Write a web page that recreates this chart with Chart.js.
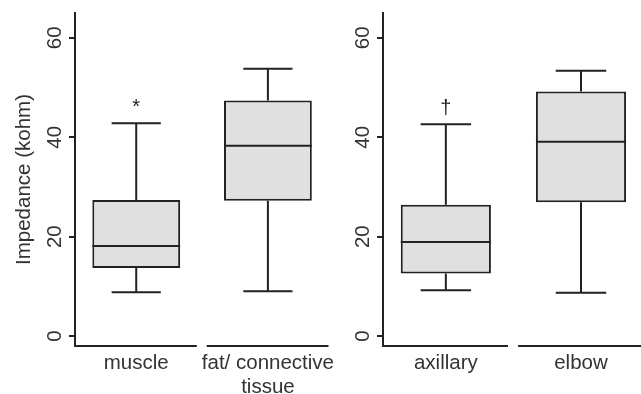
<!DOCTYPE html>
<html>
<head>
<meta charset="utf-8">
<script src="https://cdn.jsdelivr.net/npm/chart.js@4.4.1/dist/chart.umd.min.js"></script>
<style>
  body { margin: 0; background: #fff; }
  #wrap { position: relative; width: 641px; height: 394px; }
  #leftBox { position: absolute; left: 0; top: 0; width: 340px; height: 394px; }
  #rightBox { position: absolute; left: 340px; top: 0; width: 301px; height: 394px; }
</style>
</head>
<body>
<div id="wrap">
  <div id="leftBox"><canvas id="tissueChart"></canvas></div>
  <div id="rightBox"><canvas id="siteChart"></canvas></div>
</div>
<script>
// left panel: tissue type
const tissueLabels = ['muscle', ['fat/ connective', 'tissue']];
const tissueMin = [8.8, 9.0];
const tissueQ1 = [13.7, 27.2];
const tissueMedian = [18.1, 38.3];
const tissueQ3 = [27.4, 47.4];
const tissueMax = [42.8, 53.8];
const tissueMarks = ['*', ''];

// right panel: puncture site
const siteLabels = ['axillary', 'elbow'];
const siteMin = [9.2, 8.7];
const siteQ1 = [12.6, 26.9];
const siteMedian = [18.9, 39.1];
const siteQ3 = [26.4, 49.2];
const siteMax = [42.6, 53.4];
const siteMarks = ['\u2020', ''];

const yTicks = [0, 20, 40, 60];

const FONT = '"Liberation Sans", Arial, sans-serif';
const INK = '#222';
const TXT = '#333';

// whiskers, medians, segmented x axis, rotated y tick labels
const boxPlugin = {
  id: 'boxPlugin',
  afterDatasetsDraw(chart, args, opts) {
    const { ctx, chartArea } = chart;
    const x = chart.scales.x, y = chart.scales.y;
    const bars = chart.getDatasetMeta(0).data;
    ctx.save();
    ctx.strokeStyle = INK;
    ctx.lineWidth = 2;
    bars.forEach((bar, i) => {
      const cx = bar.x;
      const half = bar.width / 2;
      const cap = bar.width * 0.28;
      const pMed = y.getPixelForValue(opts.median[i]);
      const pQ1 = y.getPixelForValue(opts.q1[i]);
      const pQ3 = y.getPixelForValue(opts.q3[i]);
      const pMin = y.getPixelForValue(opts.min[i]);
      const pMax = y.getPixelForValue(opts.max[i]);
      ctx.beginPath();
      ctx.moveTo(cx - half, pMed); ctx.lineTo(cx + half, pMed);
      ctx.moveTo(cx, pQ3); ctx.lineTo(cx, pMax);
      ctx.moveTo(cx - cap, pMax); ctx.lineTo(cx + cap, pMax);
      ctx.moveTo(cx, pQ1); ctx.lineTo(cx, pMin);
      ctx.moveTo(cx - cap, pMin); ctx.lineTo(cx + cap, pMin);
      ctx.stroke();
      if (opts.marks[i]) {
        ctx.fillStyle = INK;
        ctx.font = '20px ' + FONT;
        ctx.textAlign = 'center';
        ctx.textBaseline = 'alphabetic';
        ctx.fillText(opts.marks[i], cx, pMax - 10);
      }
    });

    // x axis drawn as one segment per category
    ctx.beginPath();
    bars.forEach((bar, i) => {
      ctx.moveTo(x.getPixelForValue(i - 0.465), chartArea.bottom);
      ctx.lineTo(x.getPixelForValue(i + 0.46), chartArea.bottom);
    });
    ctx.stroke();

    // y tick labels, rotated
    ctx.fillStyle = TXT;
    ctx.font = '20.5px ' + FONT;
    ctx.textAlign = 'center';
    ctx.textBaseline = 'middle';
    yTicks.forEach(v => {
      ctx.save();
      ctx.translate(chartArea.left - 20, y.getPixelForValue(v));
      ctx.rotate(-Math.PI / 2);
      ctx.fillText(String(v), 0, 0);
      ctx.restore();
    });
    ctx.restore();
  }
};

function makeChart(id, labels, mn, q1, med, q3, mx, marks, leftWidth, xMax, title) {
  const ctx = document.getElementById(id).getContext('2d');
  return new Chart(ctx, {
    type: 'bar',
    data: {
      datasets: [{
        data: labels.map((l, i) => ({ x: i, y: [q1[i], q3[i]] })),
        backgroundColor: '#e0e0e0',
        borderColor: INK,
        borderWidth: 2,
        borderSkipped: false,
        categoryPercentage: 1,
        barPercentage: 0.667
      }]
    },
    plugins: [boxPlugin],
    options: {
      responsive: true,
      maintainAspectRatio: false,
      animation: false,
      layout: { padding: { top: 13, left: 0, right: 0, bottom: 0 } },
      plugins: {
        legend: { display: false },
        tooltip: { enabled: false },
        boxPlugin: { min: mn, q1: q1, median: med, q3: q3, max: mx, marks: marks }
      },
      scales: {
        x: {
          type: 'linear',
          offset: false,
          min: -0.465,
          max: xMax,
          afterBuildTicks: s => { s.ticks = labels.map((l, i) => ({ value: i })); },
          afterFit: s => { s.height = 48; },
          grid: { display: false, drawTicks: false, offset: false },
          border: { display: false },
          ticks: {
            padding: 6,
            color: TXT,
            font: { family: FONT, size: 20.5, lineHeight: 1.15 },
            maxRotation: 0,
            autoSkip: false,
            callback: v => labels[v]
          }
        },
        y: {
          min: -2,
          max: 65,
          afterBuildTicks: s => { s.ticks = yTicks.map(v => ({ value: v })); },
          afterFit: s => { s.width = leftWidth; },
          grid: { drawOnChartArea: false, tickLength: 6, color: INK, lineWidth: 2 },
          border: { display: true, color: INK, width: 2 },
          ticks: { display: false },
          title: {
            display: !!title,
            text: title,
            color: TXT,
            font: { family: FONT, size: 20.5 },
            padding: { top: 12, bottom: 0 }
          }
        }
      }
    }
  });
}

makeChart('tissueChart', tissueLabels, tissueMin, tissueQ1, tissueMedian, tissueQ3, tissueMax, tissueMarks, 75, 1.496, 'Impedance (kohm)');
makeChart('siteChart', siteLabels, siteMin, siteQ1, siteMedian, siteQ3, siteMax, siteMarks, 43, 1.444, '');
</script>
</body>
</html>
